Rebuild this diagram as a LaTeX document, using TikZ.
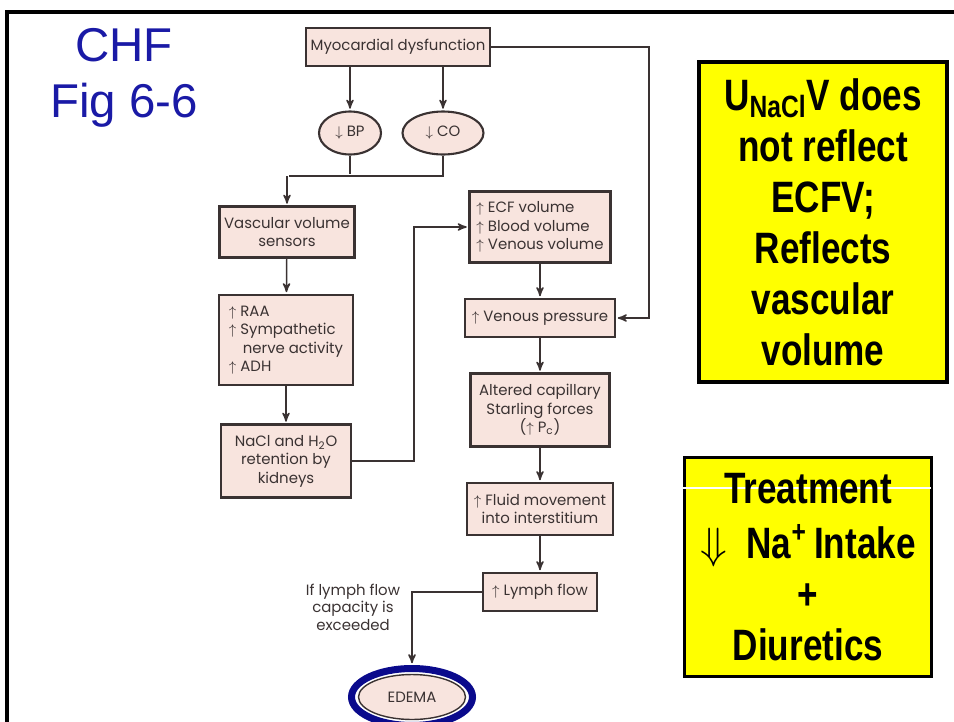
\documentclass[tikz,border=0pt]{standalone}
\usepackage{fontspec}
\setmainfont{Liberation Sans}
\newfontfamily\chartfont{Poppins}
\newfontfamily\notefont[FakeStretch=0.8]{Liberation Sans}
\usetikzlibrary{arrows,shapes.geometric}

\definecolor{boxpink}{HTML}{F8E4DE}
\definecolor{boxline}{HTML}{3A3232}
\definecolor{slideblue}{HTML}{1A1AA6}
\definecolor{ringblue}{HTML}{0A0A8C}
\definecolor{noteyellow}{HTML}{FFFF00}

\begin{document}
\begin{tikzpicture}[x=0.02cm,y=-0.02cm,->,>=stealth',shorten >=1pt,
  line width=0.85pt,draw=boxline,
  flow box/.style={rectangle,draw=boxline,fill=boxpink,line width=1.2pt,
    align=center,inner sep=2pt,text=boxline,
    font=\chartfont\fontsize{8.5}{10.5}\selectfont},
  flow oval/.style={flow box,ellipse,inner sep=0pt},
  note text/.style={align=center,font=\notefont\bfseries\fontsize{25}{29}\selectfont},
  note box/.style={note text,rectangle,draw=black,fill=noteyellow,line width=2pt}]

  \useasboundingbox (0,0) rectangle (954,721);
  \draw[-,black,line width=1.8pt] (7,12) rectangle (980,760);

  % title
  \node[text=slideblue,font=\fontsize{27}{32}\selectfont,align=center]
    (title) at (124,78) {CHF\\Fig 6-6};

  % flow chart
  \node[flow box,minimum width=3.68cm,minimum height=0.76cm] (myo) at (398,47)
    {Myocardial dysfunction};
  \node[flow oval,minimum width=1.24cm,minimum height=0.86cm] (bp) at (350,133)
    {$\downarrow$ BP};
  \node[flow oval,minimum width=1.62cm,minimum height=0.86cm] (co) at (443,133)
    {$\downarrow$ CO};
  \node[flow box,minimum width=2.7cm,minimum height=1.02cm] (sensors) at (287,232)
    {Vascular volume\\sensors};
  \node[flow box,minimum width=2.68cm,minimum height=1.8cm,align=left] (raa) at (286,340)
    {$\uparrow$ RAA\\$\uparrow$ Sympathetic\\\phantom{$\uparrow$ }\,nerve activity\\$\uparrow$ ADH};
  \node[flow box,minimum width=2.6cm,minimum height=1.46cm] (nacl) at (286,461)
    {NaCl and H\textsubscript{2}O\\retention by\\kidneys};
  \node[flow box,minimum width=2.82cm,minimum height=1.42cm,align=left] (ecf) at (540,227)
    {$\uparrow$ ECF volume\\$\uparrow$ Blood volume\\$\uparrow$ Venous volume};
  \node[flow box,minimum width=3.0cm,minimum height=0.76cm] (venous) at (540,318)
    {$\uparrow$ Venous pressure};
  \node[flow box,minimum width=2.78cm,minimum height=1.46cm] (altered) at (540,410)
    {Altered capillary\\Starling forces\\($\uparrow$ P\textsubscript{c})};
  \node[flow box,minimum width=2.92cm,minimum height=1.04cm] (fluid) at (540,509)
    {$\uparrow$ Fluid movement\\into interstitium};
  \node[flow box,minimum width=2.28cm,minimum height=0.76cm] (lymph) at (540,592)
    {$\uparrow$ Lymph flow};
  \node[text=boxline,align=center,font=\chartfont\fontsize{8.5}{10}\selectfont]
    (exceeded) at (353,607) {If lymph flow\\capacity is\\exceeded};
  \node[ellipse,draw=ringblue,line width=4pt,minimum width=2.42cm,minimum height=1.14cm]
    (edema ring) at (412,697) {};
  \node[flow oval,line width=0.8pt,minimum width=2.14cm,minimum height=0.9cm]
    (edema) at (412,697) {EDEMA};

  \coordinate (join) at (287,176);
  \coordinate (rise) at (414,461);
  \coordinate (rightbend) at (649,318);

  \draw (bp.north |- myo.south) -- (bp.north);
  \draw (co.north |- myo.south) -- (co.north);
  \draw[-] (bp.south) -- (bp.south |- join);
  \draw[-] (co.south) |- (join);
  \draw (join) -- (sensors.north);
  \draw (sensors) -- (raa);
  \draw (raa) -- (nacl);
  \draw (nacl.east) -- (rise) |- (ecf.west);
  \draw (ecf) -- (venous);
  \draw (myo.east) -| (rightbend) -- (venous.east);
  \draw (venous) -- (altered);
  \draw (altered) -- (fluid);
  \draw (fluid) -- (lymph);
  \draw (lymph.west) -| (edema ring.north);

  % notes
  \node[note box,minimum width=4.96cm,minimum height=6.4cm] (note) at (823,222)
    {U\textsubscript{NaCl}V does\\not reflect\\ECFV;\\Reflects\\vascular\\volume};
  \node[note box,minimum width=4.94cm,minimum height=4.38cm] (treat) at (808,567) {};
  \draw[-,white,line width=0.7pt] (treat.west |- 0,488) -- (treat.east |- 0,488);
  \node[note text] (treat text) at (treat)
    {Treatment\\[2pt]$\Downarrow$\ \ Na\textsuperscript{+}\,Intake\\+\\Diuretics};
\end{tikzpicture}
\end{document}
